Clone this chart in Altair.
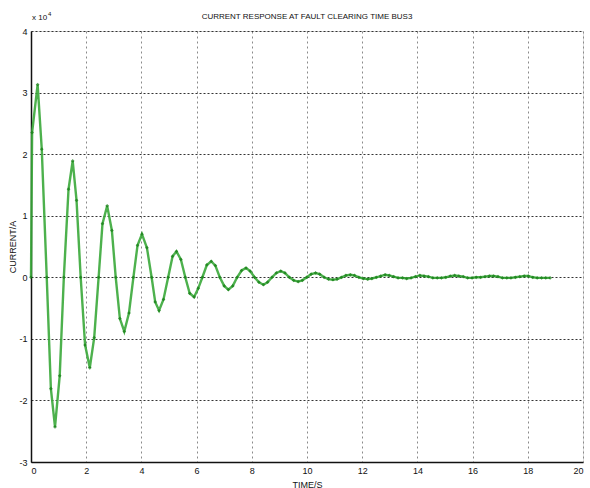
import altair as alt
import pandas as pd

# time (s) and current (x 10^4 A)
time_s = [
    0.00, 0.04, 0.24, 0.39, 0.57, 0.72, 0.87, 1.04, 1.19, 1.36, 1.51, 1.65,
    1.80, 1.96, 2.13, 2.29, 2.45, 2.59, 2.76, 2.93, 3.07, 3.22, 3.38, 3.55,
    3.71, 3.86, 4.02, 4.20, 4.37, 4.50, 4.64, 4.80, 4.97, 5.13, 5.27, 5.43,
    5.59, 5.75, 5.91, 6.06, 6.21, 6.37, 6.53, 6.68, 6.84, 7.00, 7.15, 7.31,
    7.47, 7.63, 7.79, 7.94, 8.10, 8.26, 8.42, 8.57, 8.73, 8.89, 9.05, 9.20,
    9.36, 9.52, 9.68, 9.83, 9.99, 10.15, 10.31, 10.46, 10.62, 10.78, 10.94, 11.09,
    11.25, 11.41, 11.57, 11.72, 11.88, 12.04, 12.20, 12.35, 12.51, 12.67, 12.83, 12.98,
    13.14, 13.30, 13.46, 13.61, 13.77, 13.93, 14.09, 14.24, 14.40, 14.56, 14.72, 14.87,
    15.03, 15.19, 15.35, 15.50, 15.66, 15.82, 15.98, 16.13, 16.29, 16.45, 16.61, 16.76,
    16.92, 17.08, 17.24, 17.39, 17.55, 17.71, 17.87, 18.02, 18.18, 18.34, 18.50, 18.65,
    18.81,
]
current = [
    0.00, 2.35, 3.13, 2.08, 0.00, -1.81, -2.43, -1.60, 0.00, 1.43, 1.89, 1.25,
    0.00, -1.10, -1.47, -0.98, 0.00, 0.87, 1.16, 0.76, 0.00, -0.67, -0.88, -0.58,
    0.00, 0.52, 0.70, 0.48, 0.00, -0.40, -0.54, -0.36, 0.00, 0.34, 0.42, 0.29,
    0.00, -0.26, -0.32, -0.18, 0.00, 0.20, 0.26, 0.19, 0.00, -0.14, -0.20, -0.14,
    0.00, 0.11, 0.15, 0.10, 0.00, -0.08, -0.12, -0.08, 0.00, 0.07, 0.10, 0.07,
    0.00, -0.05, -0.07, -0.05, 0.00, 0.05, 0.07, 0.05, 0.00, -0.03, -0.04, -0.03,
    0.00, 0.03, 0.04, 0.03, 0.00, -0.02, -0.03, -0.02, 0.00, 0.02, 0.04, 0.03,
    0.01, -0.01, -0.01, -0.02, -0.01, 0.01, 0.03, 0.02, 0.01, -0.01, -0.01, -0.01,
    0.00, 0.02, 0.03, 0.02, 0.01, -0.01, -0.01, 0.00, 0.00, 0.01, 0.02, 0.02,
    0.01, -0.01, -0.01, -0.01, 0.00, 0.01, 0.02, 0.02, 0.00, -0.01, -0.01, -0.01,
    -0.01,
]

x_ticks = [0, 2, 4, 6, 8, 10, 12, 14, 16, 18, 20]
y_ticks = [-3, -2, -1, 0, 1, 2, 3, 4]
title_text = "CURRENT RESPONSE AT FAULT CLEARING TIME BUS3"

df = pd.DataFrame({"t": time_s, "i": current})

FONT = "Liberation Sans Narrow, Liberation Sans, Arial, sans-serif"

xs = alt.Scale(domain=[0, 20], nice=False, zero=False)
ys = alt.Scale(domain=[-3, 4], nice=False, zero=False)

x_enc = alt.X("t:Q", scale=xs, axis=alt.Axis(
    values=x_ticks, title="TIME/S", labelExpr="'' + datum.value", grid=True,
    gridColor="#8a8a8a", gridDash=[2, 3], gridWidth=1,
    domainColor="#111", domainWidth=1.5, tickColor="#111", tickSize=0,
    labelFont=FONT, labelFontSize=9, labelColor="#111", labelPadding=4,
    titleFont=FONT, titleFontSize=9, titleFontWeight="normal", titleColor="#111",
    titlePadding=5))
y_enc = alt.Y("i:Q", scale=ys, axis=alt.Axis(
    values=y_ticks, title="CURRENT/A", labelExpr="'' + datum.value", grid=True,
    gridColor="#333", gridDash=[2, 2], gridWidth=1,
    domainColor="#111", domainWidth=1.5, tickColor="#111", tickSize=0,
    labelFont=FONT, labelFontSize=9, labelColor="#111", labelPadding=4,
    titleFont=FONT, titleFontSize=9, titleFontWeight="normal", titleColor="#111",
    titleX=-14, titleBaseline="bottom"))

base = alt.Chart(df)
line = base.mark_line(color="#3aa83a", strokeWidth=2.4, opacity=0.9).encode(x=x_enc, y=y_enc)
pts = base.mark_point(shape="diamond", filled=True, color="#137a13", size=14).encode(
    x=alt.X("t:Q", scale=xs), y=alt.Y("i:Q", scale=ys))

title_mark = alt.Chart(pd.DataFrame({"s": [title_text]})).mark_text(
    font=FONT, fontSize=8, align="center", baseline="alphabetic", color="#111").encode(
    x=alt.value(276), y=alt.value(-12), text="s:N")
exp_text = alt.Chart(pd.DataFrame({"s": ["x 10"]})).mark_text(
    font=FONT, fontSize=8, align="left", baseline="alphabetic", color="#111").encode(
    x=alt.value(1), y=alt.value(-11), text="s:N")
exp_sup = alt.Chart(pd.DataFrame({"s": ["4"]})).mark_text(
    font=FONT, fontSize=6, align="left", baseline="alphabetic", color="#111").encode(
    x=alt.value(17), y=alt.value(-15), text="s:N")

chart = alt.layer(line, pts, title_mark, exp_text, exp_sup).properties(
    width=552, height=431,
    autosize=alt.AutoSizeParams(type="none"),
    padding={"left": 31, "top": 31, "right": 7, "bottom": 26},
).configure_view(stroke="#333", strokeWidth=1).configure(background="white")

chart.save("out.html", embed_options={"renderer": "svg", "actions": False})
